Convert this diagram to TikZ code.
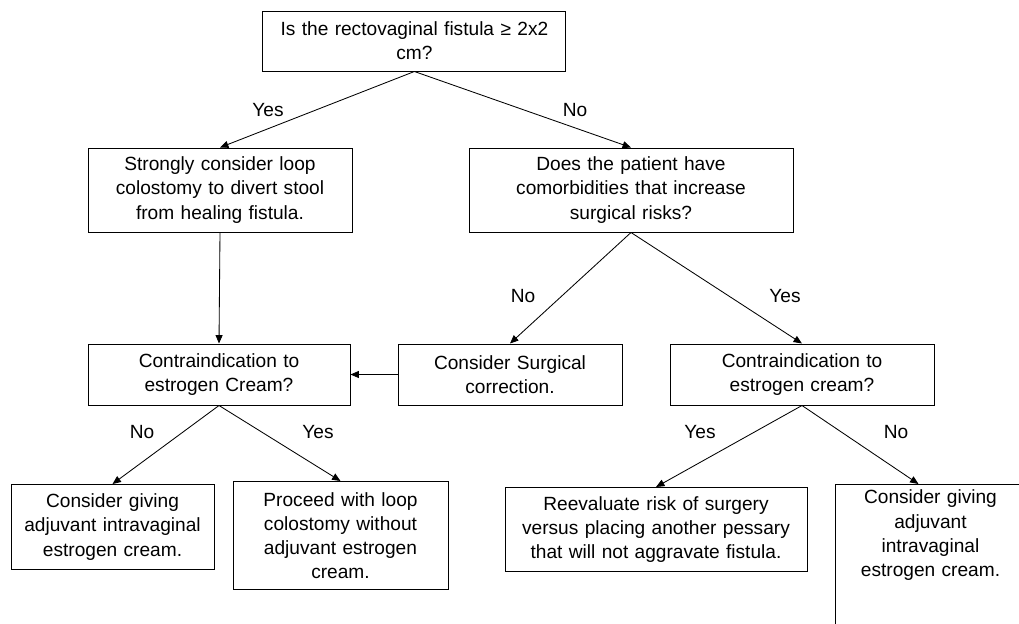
\documentclass[tikz,border=0pt]{standalone}
\usepackage{fontspec}
\setmainfont{Liberation Sans}
\usetikzlibrary{arrows.meta}

\begin{document}
\begin{tikzpicture}[
	  box/.style={draw, line width=0.7pt, align=center, inner sep=1pt, font=\fontsize{13.6}{17.2}\selectfont},
	  lbl/.style={font=\fontsize{13.6}{17.2}\selectfont},
	  arr/.style={line width=0.6pt, -{Triangle[length=6pt,width=5pt]}}
	]
	  \useasboundingbox (0,0) rectangle (25.475,-15.575);
	  \clip (0,0) rectangle (25.475,-15.575);

	  \node[box, minimum width=7.575cm, minimum height=1.5cm, text width=7.4cm] (1) at (10.36,-1.025) {Is the rectovaginal fistula ≥ 2x2\\cm?};
	  \node[box, minimum width=6.6cm, minimum height=2.1cm, text width=6.4cm] (2) at (5.5,-4.75) {Strongly consider loop\\colostomy to divert stool\\from healing fistula.};
	  \node[box, minimum width=8.1cm, minimum height=2.1cm, text width=7.9cm] (3) at (15.775,-4.75) {Does the patient have\\comorbidities that increase\\surgical risks?};
	  \node[box, minimum width=6.55cm, minimum height=1.525cm, text width=6.4cm] (4) at (5.475,-9.3625) {Contraindication to\\estrogen Cream?};
	  \node[box, minimum width=5.6cm, minimum height=1.525cm, text width=5.4cm] (5) at (12.75,-9.3625) {Consider Surgical\\correction.};
	  \node[box, minimum width=6.6cm, minimum height=1.525cm, text width=6.4cm] (6) at (20.05,-9.3625) {Contraindication to\\estrogen cream?};
	  \node[box, minimum width=5.075cm, minimum height=2.125cm, text width=4.9cm] (7) at (2.8125,-13.175) {Consider giving\\adjuvant intravaginal\\estrogen cream.};
	  \node[box, minimum width=5.375cm, minimum height=2.7cm, text width=5.2cm] (8) at (8.5125,-13.3875) {Proceed with loop\\colostomy without\\adjuvant estrogen\\cream.};
	  \node[box, minimum width=7.55cm, minimum height=2.1cm, text width=7.4cm] (9) at (16.4,-13.2375) {Reevaluate risk of surgery\\versus placing another pessary\\that will not aggravate fistula.};
	  \node[box, anchor=north west, inner ysep=4pt, minimum width=4.75cm, text width=4.6cm, text depth=3cm] (10) at (20.875,-12.1) {Consider giving\\adjuvant\\intravaginal\\estrogen cream.};

	  \node[lbl] (y1) at (6.7,-2.75) {Yes};
	  \node[lbl] (n1) at (14.375,-2.75) {No};
	  \node[lbl] (n2) at (13.075,-7.4) {No};
	  \node[lbl] (y2) at (19.625,-7.4) {Yes};
	  \node[lbl] (n3) at (3.55,-10.8) {No};
	  \node[lbl] (y3) at (7.95,-10.8) {Yes};
	  \node[lbl] (y4) at (17.5,-10.8) {Yes};
	  \node[lbl] (n4) at (22.4,-10.8) {No};

	  \draw[arr] (1.south) -- (2.north);
	  \draw[arr] (1.south) -- (3.north);
	  \draw[arr] (2.south) -- (4.north);
	  \draw[arr] (3.south) -- (5.north);
	  \draw[arr] (3.south) -- (6.north);
	  \draw[arr] (5.west) -- (4.east);
	  \draw[arr] (4.south) -- (7.north);
	  \draw[arr] (4.south) -- (8.north);
	  \draw[arr] (6.south) -- (9.north);
	  \draw[arr] (6.south) -- ([xshift=-0.3cm]10.north);
	\end{tikzpicture}
\end{document}
